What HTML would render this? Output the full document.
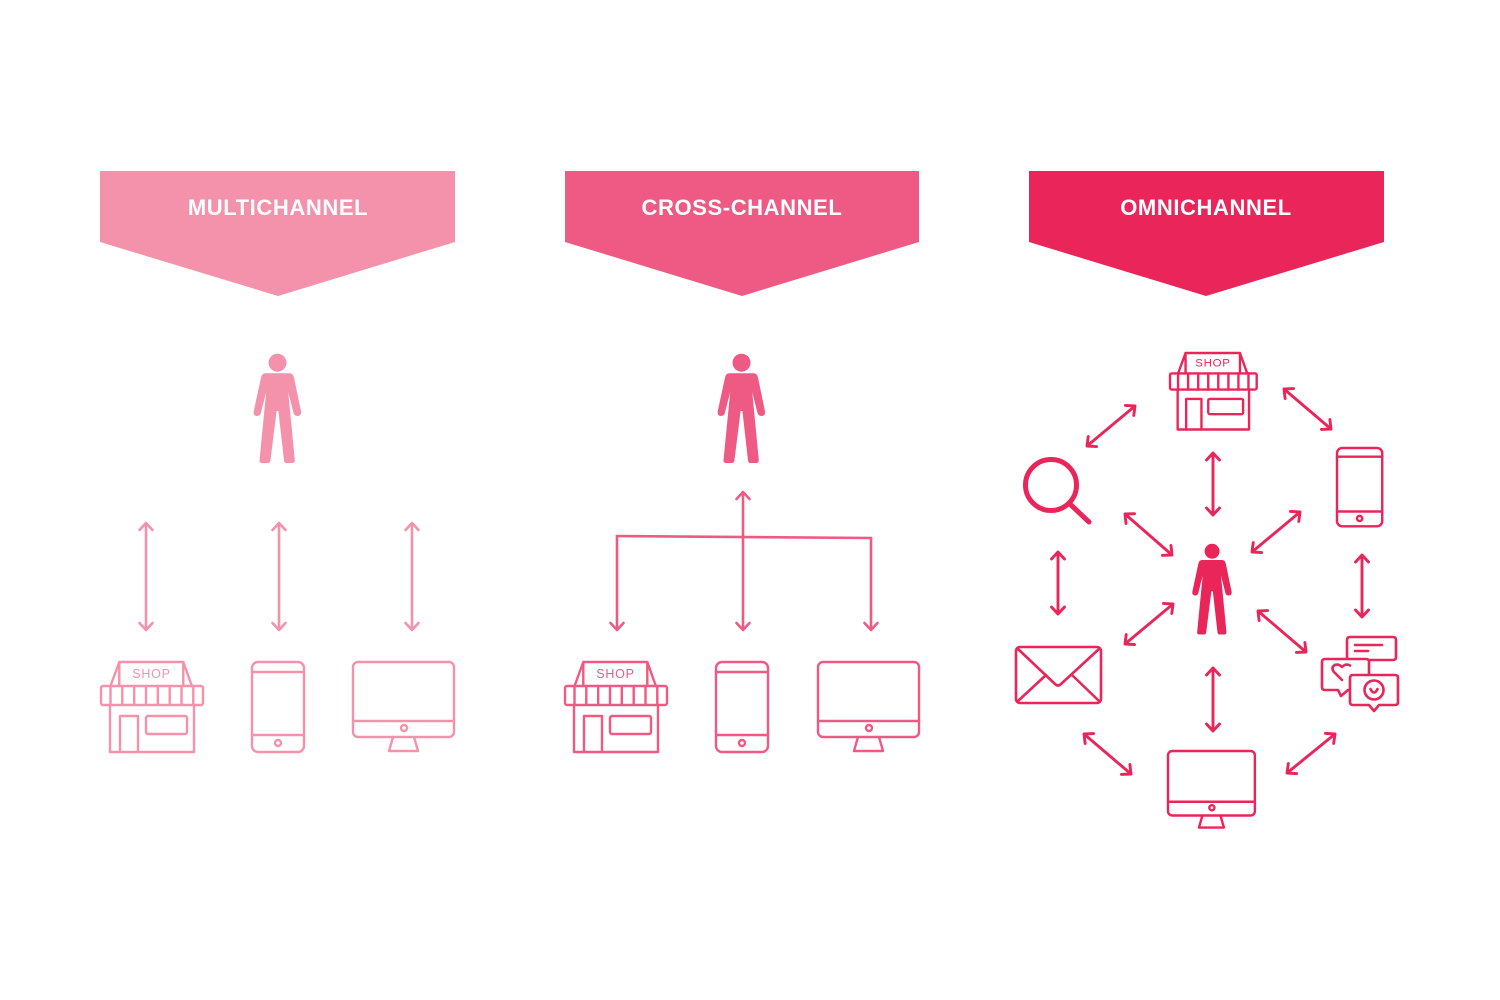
<!DOCTYPE html>
<html>
<head>
<meta charset="utf-8">
<style>
html,body{margin:0;padding:0;background:#fff;}
svg{display:block;}
.t{font-family:"Liberation Sans",Arial,sans-serif;font-weight:bold;font-size:22px;fill:#fff;letter-spacing:0.6px;}
.s{font-family:"Liberation Sans",Arial,sans-serif;font-size:12.5px;letter-spacing:0.8px;}
</style>
</head>
<body>
<svg width="1500" height="1000" viewBox="0 0 1500 1000" xmlns="http://www.w3.org/2000/svg">
<defs>
<marker id="m1" viewBox="0 0 16 16" refX="13" refY="8" markerWidth="16" markerHeight="16" markerUnits="userSpaceOnUse" orient="auto-start-reverse" style="overflow:visible">
<path d="M6,1.5 L13,8 L6,14.5" fill="none" stroke="#F492AC" stroke-width="2.6" stroke-linecap="round" stroke-linejoin="round"/>
</marker>
<marker id="m2" viewBox="0 0 16 16" refX="13" refY="8" markerWidth="16" markerHeight="16" markerUnits="userSpaceOnUse" orient="auto-start-reverse" style="overflow:visible">
<path d="M6,1.5 L13,8 L6,14.5" fill="none" stroke="#EF5A84" stroke-width="2.6" stroke-linecap="round" stroke-linejoin="round"/>
</marker>
<marker id="m3" viewBox="0 0 16 16" refX="13" refY="8" markerWidth="16" markerHeight="16" markerUnits="userSpaceOnUse" orient="auto-start-reverse" style="overflow:visible">
<path d="M6,1.5 L13,8 L6,14.5" fill="none" stroke="#E9255A" stroke-width="2.9" stroke-linecap="round" stroke-linejoin="round"/>
</marker>
</defs>

<!-- Headers -->
<polygon points="100,171 455,171 455,242 278,296 100,242" fill="#F492AC"/>
<text class="t" x="278" y="215" text-anchor="middle">MULTICHANNEL</text>
<polygon points="565,171 919,171 919,242 742,296 565,242" fill="#EF5A84"/>
<text class="t" x="742" y="215" text-anchor="middle">CROSS-CHANNEL</text>
<polygon points="1029,171 1384,171 1384,242 1206,296 1029,242" fill="#E9255A"/>
<text class="t" x="1206" y="215" text-anchor="middle">OMNICHANNEL</text>

<!-- Persons -->
<g transform="translate(278,354)" fill="#F492AC">
<circle cx="-0.5" cy="8.7" r="9"/>
<path d="M -12.5,19.3 L 11.5,19.3 Q 15,19.3 16,23.5 L 23,57.5 Q 23.5,62 19.5,62 Q 16.3,62 15.6,59.3 L 10.2,38 L 16.8,106 Q 17,109 14,109 L 8.3,109 Q 6.2,109 6,106.5 L 0.4,57 L -1.4,57 L -7.6,106.5 Q -8,109 -10,109 L -15.8,109 Q -18.8,109 -18.5,106 L -11.8,38 L -17.2,59.3 Q -17.8,62 -21,62 Q -24.8,62 -24.3,57.5 L -17,23.5 Q -16,19.3 -12.5,19.3 Z"/>
</g>
<g transform="translate(742,354)" fill="#EF5A84">
<circle cx="-0.5" cy="8.7" r="9"/>
<path d="M -12.5,19.3 L 11.5,19.3 Q 15,19.3 16,23.5 L 23,57.5 Q 23.5,62 19.5,62 Q 16.3,62 15.6,59.3 L 10.2,38 L 16.8,106 Q 17,109 14,109 L 8.3,109 Q 6.2,109 6,106.5 L 0.4,57 L -1.4,57 L -7.6,106.5 Q -8,109 -10,109 L -15.8,109 Q -18.8,109 -18.5,106 L -11.8,38 L -17.2,59.3 Q -17.8,62 -21,62 Q -24.8,62 -24.3,57.5 L -17,23.5 Q -16,19.3 -12.5,19.3 Z"/>
</g>
<g transform="translate(1212.5,544) scale(0.83)" fill="#E9255A">
<circle cx="-0.5" cy="8.7" r="9"/>
<path d="M -12.5,19.3 L 11.5,19.3 Q 15,19.3 16,23.5 L 23,57.5 Q 23.5,62 19.5,62 Q 16.3,62 15.6,59.3 L 10.2,38 L 16.8,106 Q 17,109 14,109 L 8.3,109 Q 6.2,109 6,106.5 L 0.4,57 L -1.4,57 L -7.6,106.5 Q -8,109 -10,109 L -15.8,109 Q -18.8,109 -18.5,106 L -11.8,38 L -17.2,59.3 Q -17.8,62 -21,62 Q -24.8,62 -24.3,57.5 L -17,23.5 Q -16,19.3 -12.5,19.3 Z"/>
</g>

<!-- Multichannel arrows -->
<g stroke="#F492AC" stroke-width="2.6" fill="none" marker-start="url(#m1)" marker-end="url(#m1)">
<line x1="146" y1="523" x2="146" y2="630"/>
<line x1="279" y1="523" x2="279" y2="630"/>
<line x1="412" y1="523" x2="412" y2="630"/>
</g>

<!-- Cross-channel arrows -->
<g stroke="#EF5A84" stroke-width="2.6" fill="none">
<line x1="743" y1="492" x2="743" y2="630" marker-start="url(#m2)" marker-end="url(#m2)"/>
<polyline points="617,630 617,536 871,538 871,630" marker-start="url(#m2)" marker-end="url(#m2)"/>
</g>

<!-- Multichannel icons -->
<g stroke="#F492AC" stroke-width="2.4" fill="none" stroke-linecap="round" stroke-linejoin="round">
<g transform="translate(101,662)">
<path d="M9.7,23.5 L18.3,0 L82.3,0 L90.7,23.5 M18.3,0 L18.3,24 M82.3,0 L82.3,24"/>
<rect x="0" y="24" width="102" height="19" rx="2"/>
<path d="M9.5,24 V43 M21.3,24 V43 M33.2,24 V43 M45,24 V43 M56.8,24 V43 M68.7,24 V43 M80.5,24 V43 M92.3,24 V43"/>
<path d="M9,43 V90 H93 V43"/>
<path d="M19,90 V54 H37 V90"/>
<rect x="45" y="54" width="41" height="18" rx="2"/>
<text class="s" x="50.5" y="16" text-anchor="middle" fill="#F492AC" stroke="none">SHOP</text>
</g>
<g transform="translate(252,662)">
<rect x="0" y="0" width="52" height="90" rx="6"/>
<path d="M0,10 H52 M0,73 H52"/>
<circle cx="26" cy="81" r="3"/>
</g>
<g transform="translate(353,662)">
<rect x="0" y="0" width="101" height="75" rx="5"/>
<path d="M0,59 H101"/>
<circle cx="51" cy="66" r="3"/>
<path d="M40,75 L36,89 H65 L61,75"/>
</g>
</g>

<!-- Cross-channel icons -->
<g stroke="#EF5A84" stroke-width="2.4" fill="none" stroke-linecap="round" stroke-linejoin="round">
<g transform="translate(565,662)">
<path d="M9.7,23.5 L18.3,0 L82.3,0 L90.7,23.5 M18.3,0 L18.3,24 M82.3,0 L82.3,24"/>
<rect x="0" y="24" width="102" height="19" rx="2"/>
<path d="M9.5,24 V43 M21.3,24 V43 M33.2,24 V43 M45,24 V43 M56.8,24 V43 M68.7,24 V43 M80.5,24 V43 M92.3,24 V43"/>
<path d="M9,43 V90 H93 V43"/>
<path d="M19,90 V54 H37 V90"/>
<rect x="45" y="54" width="41" height="18" rx="2"/>
<text class="s" x="50.5" y="16" text-anchor="middle" fill="#EF5A84" stroke="none">SHOP</text>
</g>
<g transform="translate(716,662)">
<rect x="0" y="0" width="52" height="90" rx="6"/>
<path d="M0,10 H52 M0,73 H52"/>
<circle cx="26" cy="81" r="3"/>
</g>
<g transform="translate(818,662)">
<rect x="0" y="0" width="101" height="75" rx="5"/>
<path d="M0,59 H101"/>
<circle cx="51" cy="66" r="3"/>
<path d="M40,75 L36,89 H65 L61,75"/>
</g>
</g>

<!-- Omnichannel icons -->
<g stroke="#E9255A" fill="none" stroke-linecap="round" stroke-linejoin="round">
<g transform="translate(1170,353) scale(0.85)" stroke-width="2.8">
<path d="M9.7,23.5 L18.3,0 L82.3,0 L90.7,23.5 M18.3,0 L18.3,24 M82.3,0 L82.3,24"/>
<rect x="0" y="24" width="102" height="19" rx="2"/>
<path d="M9.5,24 V43 M21.3,24 V43 M33.2,24 V43 M45,24 V43 M56.8,24 V43 M68.7,24 V43 M80.5,24 V43 M92.3,24 V43"/>
<path d="M9,43 V90 H93 V43"/>
<path d="M19,90 V54 H37 V90"/>
<rect x="45" y="54" width="41" height="18" rx="2"/>
<text class="s" x="50.5" y="16" text-anchor="middle" fill="#E9255A" stroke="none" style="font-size:13.5px">SHOP</text>
</g>
<g transform="translate(1337,448) scale(0.87)" stroke-width="2.8">
<rect x="0" y="0" width="52" height="90" rx="6"/>
<path d="M0,10 H52 M0,73 H52"/>
<circle cx="26" cy="81" r="3"/>
</g>
<g transform="translate(1168,751) scale(0.86)" stroke-width="2.8">
<rect x="0" y="0" width="101" height="75" rx="5"/>
<path d="M0,59 H101"/>
<circle cx="51" cy="66" r="3"/>
<path d="M40,75 L36,89 H65 L61,75"/>
</g>
<!-- search -->
<circle cx="1051" cy="485" r="25.5" stroke-width="5"/>
<line x1="1071" y1="505" x2="1089" y2="522" stroke-width="5"/>
<!-- email -->
<g stroke-width="2.6">
<rect x="1016" y="647" width="85" height="56" rx="4"/>
<path d="M1018,649 L1055,684 Q1058,687 1061,684 L1099,649"/>
<path d="M1018,701 L1046,675 M1099,701 L1072,675"/>
</g>
<!-- chat -->
<g stroke-width="2.6" fill="#fff">
<path d="M1350,637 H1393 Q1396,637 1396,640 V657 Q1396,660 1393,660 H1350 Q1347,660 1347,657 V640 Q1347,637 1350,637 Z"/>
<path d="M1355,645 H1382 M1355,651 H1368" fill="none"/>
<path d="M1325,659 H1366 Q1369,659 1369,662 V687 Q1369,690 1366,690 H1348 L1341,696 L1338,690 H1325 Q1322,690 1322,687 V662 Q1322,659 1325,659 Z"/>
<path d="M1342,680 L1334,672 Q1331,668 1334,665.5 Q1338,663 1342,667 Q1346,663 1350,665.5" fill="none"/>
<path d="M1353,675 H1395 Q1398,675 1398,678 V702 Q1398,705 1395,705 H1379 L1374,711 L1369,705 H1353 Q1350,705 1350,702 V678 Q1350,675 1353,675 Z"/>
<circle cx="1374" cy="690" r="9.5" fill="none"/>
<path d="M1370.5,689 Q1374,696 1377.5,689" fill="none"/>
</g>
</g>

<!-- Omnichannel arrows -->
<g stroke="#E9255A" stroke-width="2.9" fill="none" marker-start="url(#m3)" marker-end="url(#m3)">
<line x1="1087" y1="446" x2="1135" y2="406"/>
<line x1="1284" y1="389" x2="1331" y2="429"/>
<line x1="1213" y1="453" x2="1213" y2="515"/>
<line x1="1125" y1="514" x2="1172" y2="555"/>
<line x1="1300" y1="512" x2="1252" y2="552"/>
<line x1="1058" y1="552" x2="1058" y2="614"/>
<line x1="1362" y1="555" x2="1362" y2="617"/>
<line x1="1173" y1="604" x2="1125" y2="644"/>
<line x1="1258" y1="611" x2="1306" y2="652"/>
<line x1="1213" y1="668" x2="1213" y2="731"/>
<line x1="1084" y1="734" x2="1131" y2="774"/>
<line x1="1335" y1="734" x2="1287" y2="773"/>
</g>
</svg>
</body>
</html>
